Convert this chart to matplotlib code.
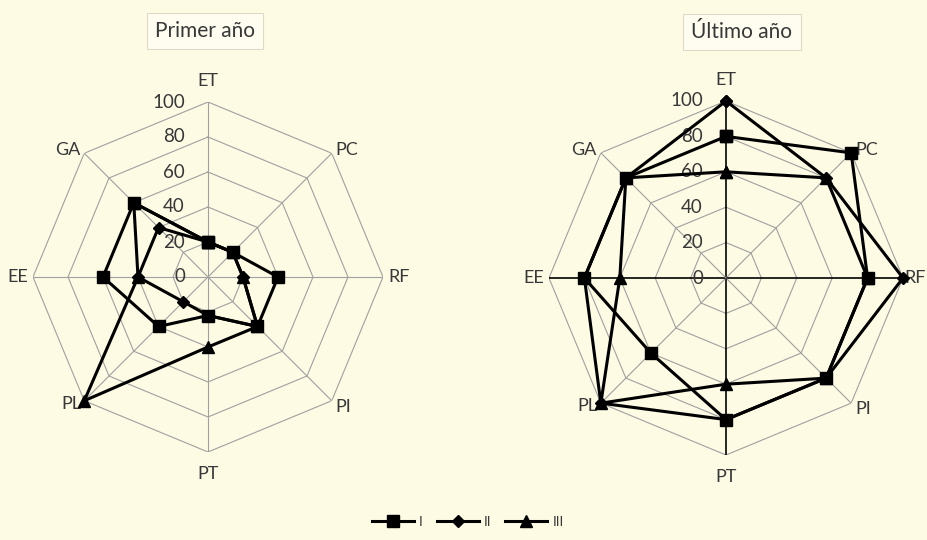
import numpy as np
import matplotlib.pyplot as plt
from matplotlib.transforms import offset_copy

plt.rcParams['font.family'] = ['Lato', 'DejaVu Sans']

categories = ['ET', 'PC', 'RF', 'PI', 'PT', 'PL', 'EE', 'GA']
ticks = [0, 20, 40, 60, 80, 100]
series_names = ['I', 'II', 'III']

# Primer año
first_I = [20, 20, 40, 40, 22, 40, 60, 60]
first_II = [20, 20, 20, 40, 22, 20, 40, 40]
first_III = [20, 20, 20, 40, 40, 100, 40, 60]

# Último año
last_I = [80, 100, 80, 80, 80, 60, 80, 80]
last_II = [100, 80, 100, 80, 80, 100, 80, 80]
last_III = [60, 80, 80, 80, 60, 100, 60, 80]

bg = '#fdfbe4'
txt = '#383838'
grid_c = '#a0a0a0'
markers = ['s', 'D', '^']
msizes = [9, 6, 8]

# label placement per category: (ha, va, dx px, dy px)
lab_pos = {
    'ET': ('center', 'bottom', 0, 13),
    'PC': ('left', 'center', 4, 3),
    'RF': ('left', 'center', 5, 0),
    'PI': ('left', 'center', 4, -6),
    'PT': ('center', 'top', 0, -14),
    'PL': ('right', 'center', -3, -3),
    'EE': ('right', 'center', -5, 0),
    'GA': ('right', 'center', -4, 3),
}

fig = plt.figure(figsize=(9.28, 5.4), dpi=100)
fig.patch.set_facecolor(bg)

angles = np.arange(len(categories)) * 2 * np.pi / len(categories)
closed = np.append(angles, angles[0])


def radar(rect, data, dark_axes, rf_dx=5):
    ax = fig.add_axes(rect, projection='polar')
    ax.set_theta_offset(np.pi / 2)
    ax.set_theta_direction(-1)
    ax.set_ylim(0, 100)
    ax.grid(False)
    ax.set_xticks([])
    ax.set_yticks([])
    ax.spines['polar'].set_visible(False)
    ax.patch.set_alpha(0)

    for r in ticks[1:]:
        ax.plot(closed, [r] * len(closed), color=grid_c, lw=0.8, zorder=1)
    for i, a in enumerate(angles):
        c = 'black' if (dark_axes and i % 2 == 0) else grid_c
        w = 1.2 if (dark_axes and i % 2 == 0) else 0.8
        ax.plot([a, a], [0, 100], color=c, lw=w, zorder=1)

    for r in ticks:
        ax.text(0, r, str(r), ha='right', va='center', fontsize=13.5, color=txt,
                transform=offset_copy(ax.transData, fig=fig, x=-23, y=0, units='dots'),
                zorder=2)

    for a, cat in zip(angles, categories):
        ha, va, dx, dy = lab_pos[cat]
        if cat == 'RF':
            dx = rf_dx
        ax.text(a, 100, cat, ha=ha, va=va, fontsize=13, color=txt,
                transform=offset_copy(ax.transData, fig=fig, x=dx, y=dy, units='dots'))

    lines = []
    for vals, m, ms, name in zip(data, markers, msizes, series_names):
        v = np.append(vals, vals[0])
        ln, = ax.plot(closed, v, color='black', lw=2.2, marker=m, markersize=ms,
                      label=name, zorder=3, clip_on=False)
        lines.append(ln)
    return ax, lines


# left: centre (208, 277), radius 175 px ; right: centre (726, 278), radius 177 px
ax1, lines = radar([(208 - 175) / 928, (540 - 277 - 175) / 540, 350 / 928, 350 / 540],
                   [first_I, first_II, first_III], False)
ax2, _ = radar([(726 - 177) / 928, (540 - 278 - 177) / 540, 354 / 928, 354 / 540],
               [last_I, last_II, last_III], True, rf_dx=1)

box = dict(boxstyle='square,pad=0.4', facecolor='#fefdf0', edgecolor='#dedac6', lw=0.8)
fig.text(205 / 928, 1 - 31 / 540, 'Primer año', ha='center', va='center',
         fontsize=15, color=txt, bbox=box)
fig.text(742 / 928, 1 - 32 / 540, 'Último año', ha='center', va='center',
         fontsize=15, color=txt, bbox=box)

fig.legend(lines, series_names, loc='center', bbox_to_anchor=(468 / 928, 1 - 522 / 540),
           ncol=3, frameon=False, fontsize=10, handlelength=3, handletextpad=0.4,
           columnspacing=1.0, labelcolor=txt)

fig.savefig('out.png', dpi=100, facecolor=bg)
